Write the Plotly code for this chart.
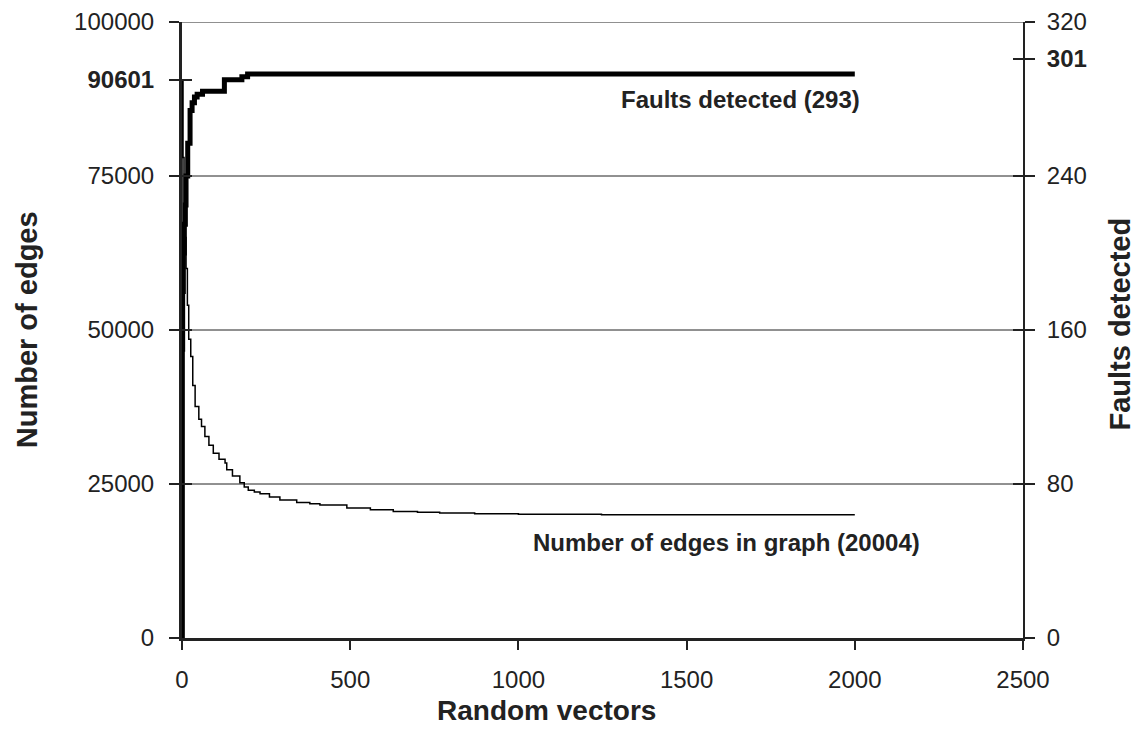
import plotly.graph_objects as go

# Data
vectors_faults = [0, 1, 2, 4, 7, 10, 12, 17, 24, 30, 37, 45, 61, 125, 126, 177, 178, 194, 195, 2000]
faults_detected = [0, 150, 180, 200, 215, 225, 240, 257, 274, 278, 281, 282.5, 284, 284, 290, 290, 291.5, 291.5, 293, 293]

vectors_edges = [0, 0, 3, 6, 9, 12, 16, 20, 26, 32, 39, 50, 58, 68, 80, 93, 110, 128, 133, 150, 172,
                 185, 197, 215, 232, 260, 291, 341, 380, 410, 490, 560, 628, 700, 766, 870, 1000,
                 1247, 1500, 2000]
edges_in_graph = [0, 90601, 78000, 70000, 65000, 60000, 54000, 48500, 45700, 41000, 37600, 35500,
                  34350, 32700, 31300, 30000, 29000, 28400, 27300, 26300, 25200, 24500, 24000, 23700,
                  23400, 22900, 22400, 22000, 21800, 21600, 21100, 20800, 20550, 20400, 20290, 20180,
                  20100, 20016, 20004, 20004]

x_ticks = [0, 500, 1000, 1500, 2000, 2500]
left_ticks = [0, 25000, 50000, 75000, 90601, 100000]
left_text = ["0", "25000", "50000", "75000", "<b>90601</b>", "100000"]
right_ticks = [0, 80, 160, 240, 301, 320]
right_text = ["0", "80", "160", "240", "<b>301</b>", "320"]
grid_vals = [25000, 50000, 75000, 100000]

FONT = "Liberation Sans, Arial, sans-serif"

fig = go.Figure()

# gridlines drawn as traces across the x-range
for g in grid_vals:
    fig.add_trace(go.Scatter(x=[0, 2500], y=[g, g], mode="lines", cliponaxis=False,
                             line=dict(color="#222222", width=1), hoverinfo="skip",
                             showlegend=False))

fig.add_trace(go.Scatter(x=vectors_edges, y=edges_in_graph, mode="lines", line_shape="hv",
                         line=dict(color="black", width=1.5), name="Edges", showlegend=False))
fig.add_trace(go.Scatter(x=vectors_faults, y=faults_detected, mode="lines", line_shape="hv",
                         line=dict(color="black", width=5), name="Faults", yaxis="y2",
                         showlegend=False))
# invisible anchors for the inside-tick overlay axes
fig.add_trace(go.Scatter(x=[0], y=[0], mode="markers", marker=dict(opacity=0), yaxis="y3",
                         hoverinfo="skip", showlegend=False))
fig.add_trace(go.Scatter(x=[0], y=[0], mode="markers", marker=dict(opacity=0), yaxis="y4",
                         hoverinfo="skip", showlegend=False))

tickfont = dict(family=FONT, size=24, color="#222222")

fig.update_layout(
    width=1131, height=740,
    margin=dict(l=174, r=116, t=14, b=110, autoexpand=False),
    plot_bgcolor="white", paper_bgcolor="white",
    xaxis=dict(range=[0, 2500], tickvals=x_ticks, ticks="outside", ticklen=9, tickwidth=2,
               tickcolor="#222222", showline=True, linecolor="#222222", linewidth=3,
               showgrid=False, zeroline=False, tickfont=tickfont, ticklabelstandoff=9,
               ticklabeloverflow="allow", automargin=False),
    yaxis=dict(range=[0, 100000], tickvals=left_ticks, ticktext=left_text, ticks="outside",
               ticklen=10, tickwidth=2, tickcolor="#222222", showline=True, linecolor="#222222",
               linewidth=3, showgrid=False, zeroline=False, tickfont=tickfont,
               ticklabelstandoff=10, ticklabeloverflow="allow", automargin=False),
    yaxis2=dict(range=[0, 320], tickvals=right_ticks, ticktext=right_text, overlaying="y",
                side="right", ticks="outside", ticklen=10, tickwidth=2, tickcolor="#222222",
                showline=True, linecolor="#222222", linewidth=2, showgrid=False, zeroline=False,
                tickfont=tickfont, ticklabelstandoff=7, ticklabeloverflow="allow",
                automargin=False),
    yaxis3=dict(range=[0, 100000], tickvals=left_ticks, overlaying="y", side="left",
                ticks="inside", ticklen=10, tickwidth=2, tickcolor="#222222",
                showticklabels=False, showgrid=False, zeroline=False, showline=False,
                automargin=False),
    yaxis4=dict(range=[0, 320], tickvals=right_ticks, overlaying="y", side="right",
                ticks="inside", ticklen=10, tickwidth=2, tickcolor="#222222",
                showticklabels=False, showgrid=False, zeroline=False, showline=False,
                automargin=False),
    annotations=[
        dict(text="<b>Faults detected (293)</b>", x=2022, y=87400, xref="x", yref="y",
             xanchor="right", yanchor="middle", showarrow=False,
             font=dict(family=FONT, size=24, color="#222222")),
        dict(text="<b>Number of edges in graph (20004)</b>", x=2200, y=15500, xref="x", yref="y",
             xanchor="right", yanchor="middle", showarrow=False,
             font=dict(family=FONT, size=24, color="#222222")),
        dict(text="<b>Random vectors</b>", x=0.433, y=-0.118, xref="paper", yref="paper",
             xanchor="center", yanchor="middle", showarrow=False,
             font=dict(family=FONT, size=28, color="#222222")),
        dict(text="<b>Number of edges</b>", x=-0.184, y=0.5, xref="paper", yref="paper",
             xanchor="center", yanchor="middle", showarrow=False, textangle=-90,
             font=dict(family=FONT, size=29, color="#222222")),
        dict(text="<b>Faults detected</b>", x=1.115, y=0.51, xref="paper", yref="paper",
             xanchor="center", yanchor="middle", showarrow=False, textangle=-90,
             font=dict(family=FONT, size=29, color="#222222")),
    ],
)

fig.write_html("out.html")
